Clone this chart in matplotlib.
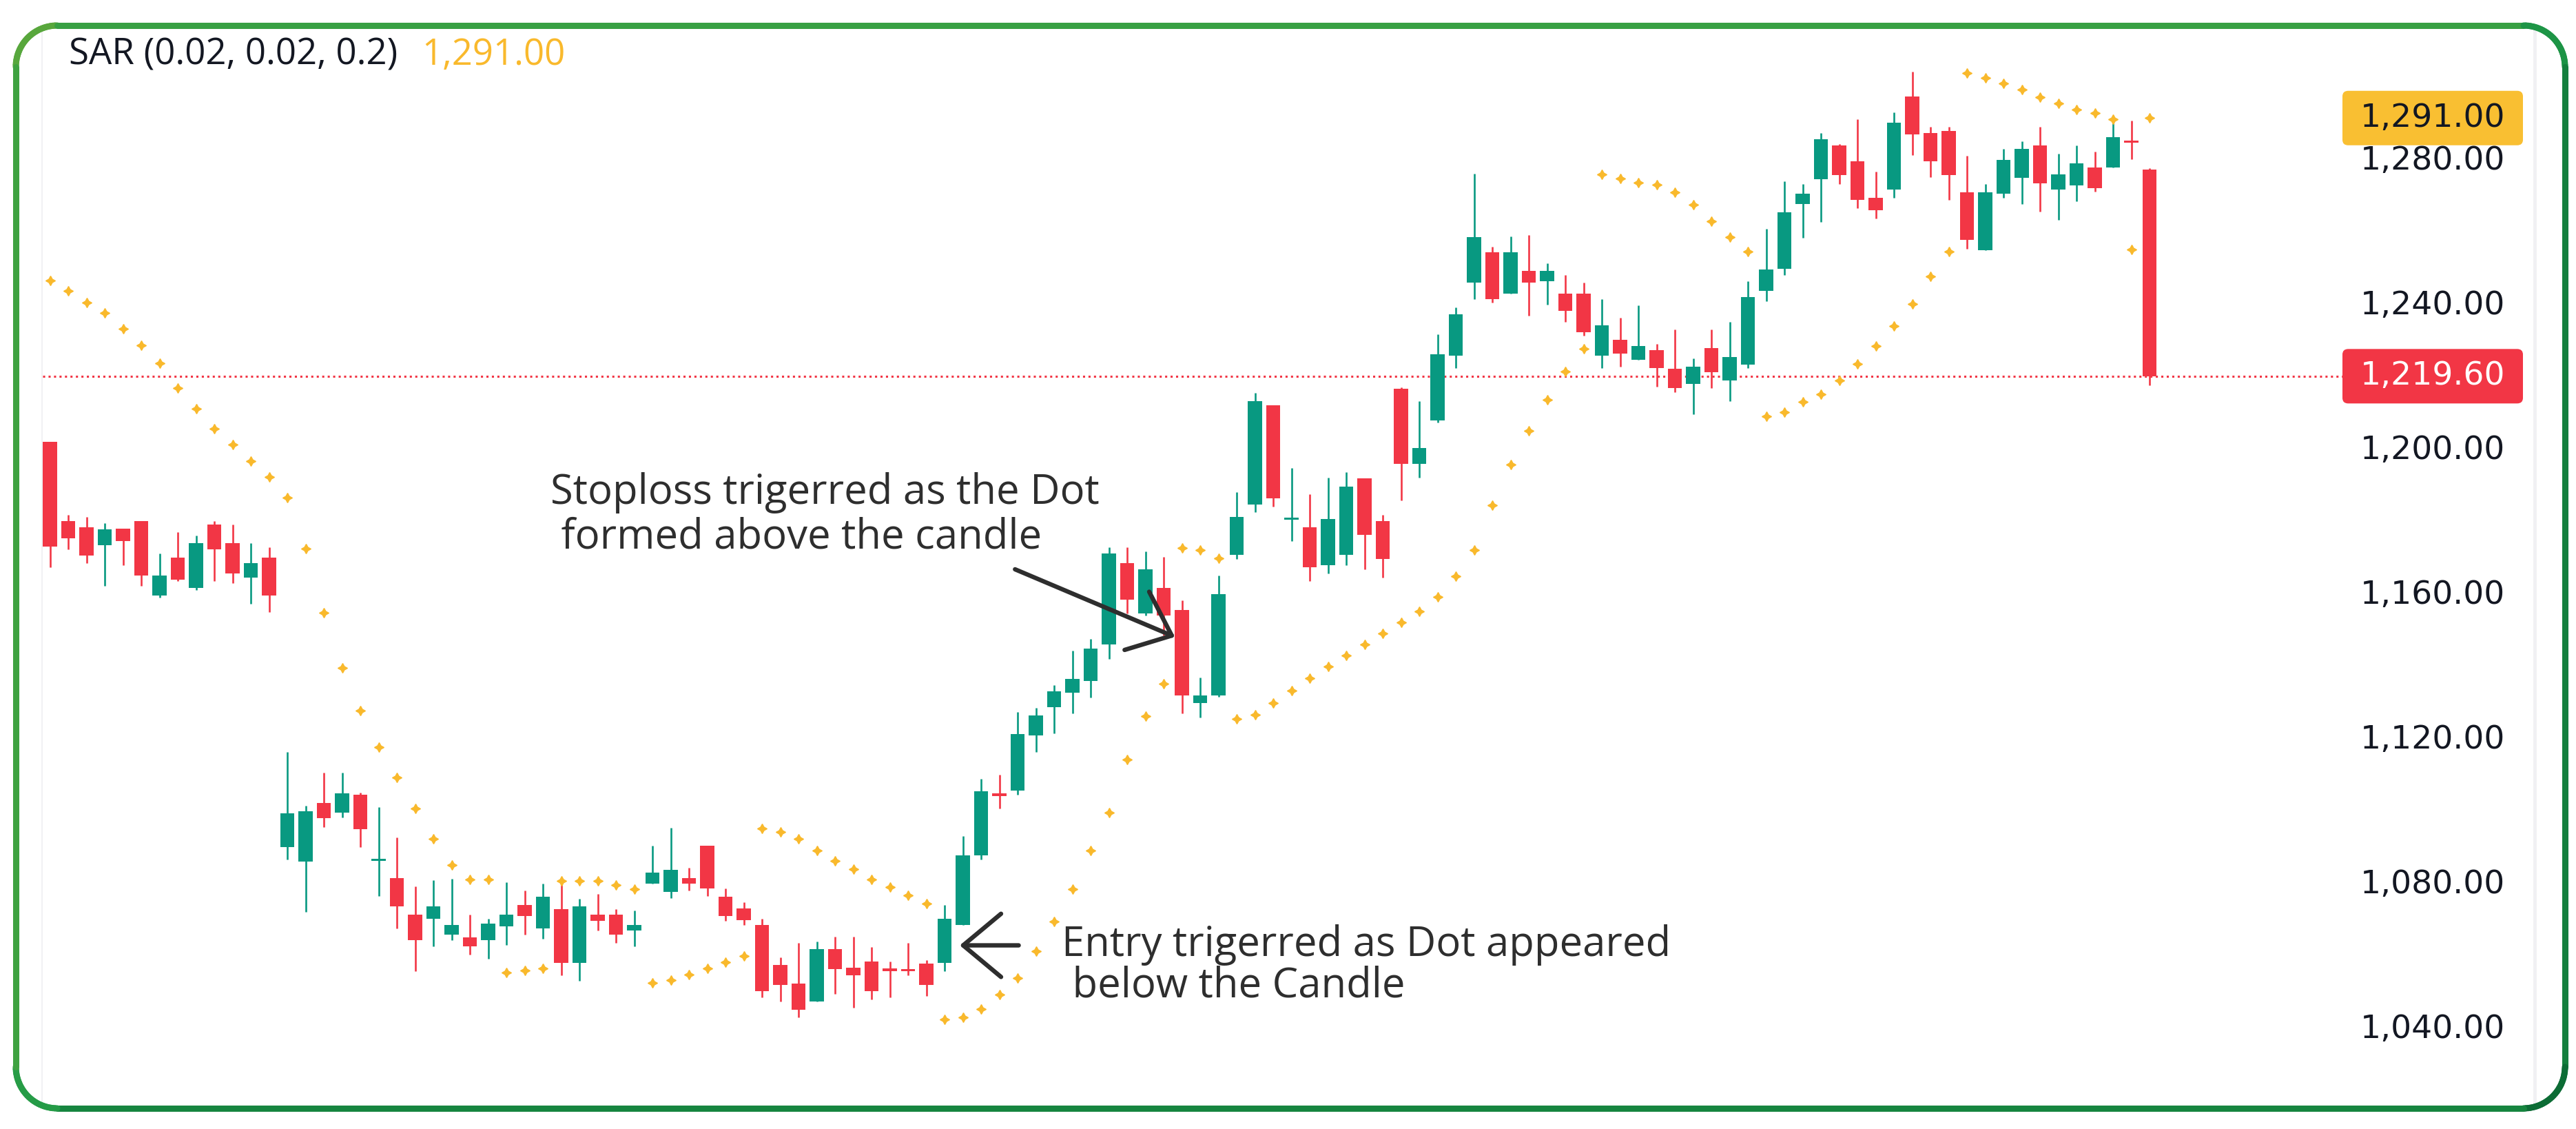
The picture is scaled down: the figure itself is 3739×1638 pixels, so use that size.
import matplotlib
matplotlib.use("Agg")
import matplotlib.pyplot as plt
import numpy as np
from matplotlib.collections import LineCollection
from matplotlib.colors import LinearSegmentedColormap
from matplotlib.lines import Line2D
from matplotlib.patches import FancyBboxPatch
from matplotlib.transforms import blended_transform_factory

# daily candles
opens = [1201.5, 1179.6, 1177.9, 1172.9, 1177.4, 1179.6, 1158.9, 1169.5, 1161.1, 1178.5,
         1173.4, 1164.0, 1169.5, 1089.3, 1085.4, 1101.5, 1098.9, 1103.8, 1085.5, 1080.8,
         1070.6, 1069.6, 1065.2, 1064.4, 1063.6, 1067.5, 1073.4, 1066.9, 1072.3, 1057.3,
         1070.6, 1070.6, 1066.3, 1079.2, 1076.9, 1080.8, 1089.8, 1075.7, 1072.4, 1067.9,
         1056.7, 1051.6, 1046.6, 1061.1, 1056.0, 1057.7, 1055.8, 1055.6, 1057.1, 1057.3,
         1067.9, 1087.0, 1104.3, 1105.1, 1120.2, 1128.1, 1132.0, 1135.4, 1145.5, 1167.9,
         1153.9, 1161.0, 1154.9, 1129.2, 1131.4, 1170.2, 1184.2, 1211.6, 1180.0, 1177.8,
         1167.3, 1170.2, 1191.4, 1179.5, 1216.1, 1195.4, 1207.3, 1225.3, 1245.4, 1253.8,
         1242.5, 1248.7, 1245.9, 1242.5, 1242.5, 1225.3, 1229.6, 1224.1, 1226.8, 1221.7,
         1217.4, 1227.4, 1218.5, 1222.9, 1243.2, 1249.3, 1267.2, 1274.0, 1283.5, 1279.0,
         1268.9, 1271.2, 1297.0, 1286.8, 1287.4, 1270.5, 1254.4, 1270.1, 1274.5, 1283.4,
         1271.2, 1272.3, 1277.3, 1277.4, 1284.8, 1276.8]
highs = [1201.5, 1181.3, 1180.7, 1179.0, 1177.4, 1179.6, 1170.6, 1176.4, 1175.6, 1179.6,
         1178.5, 1173.4, 1172.3, 1115.6, 1100.9, 1110.0, 1110.0, 1104.4, 1100.4, 1092.0,
         1078.5, 1080.2, 1080.7, 1070.6, 1069.5, 1079.6, 1077.4, 1079.2, 1080.3, 1075.1,
         1076.4, 1072.3, 1071.8, 1089.8, 1094.8, 1083.6, 1089.8, 1077.9, 1074.1, 1069.6,
         1058.8, 1062.8, 1063.3, 1064.5, 1064.5, 1061.7, 1057.7, 1062.8, 1058.2, 1073.4,
         1092.5, 1108.2, 1109.4, 1126.8, 1127.9, 1134.2, 1143.7, 1147.0, 1172.3, 1172.3,
         1171.2, 1169.6, 1157.7, 1136.3, 1164.4, 1187.5, 1215.0, 1211.6, 1194.2, 1186.9,
         1191.5, 1193.1, 1191.4, 1181.3, 1216.6, 1212.8, 1231.2, 1238.6, 1275.6, 1255.4,
         1258.2, 1258.7, 1250.9, 1247.5, 1245.4, 1240.9, 1235.8, 1239.2, 1228.5, 1232.5,
         1224.5, 1232.5, 1234.7, 1245.8, 1260.4, 1273.5, 1272.8, 1286.8, 1283.9, 1290.7,
         1276.2, 1292.5, 1303.8, 1288.6, 1288.6, 1280.6, 1272.8, 1282.4, 1284.6, 1288.6,
         1281.2, 1283.5, 1281.8, 1290.9, 1290.2, 1277.1]
lows = [1166.8, 1171.8, 1167.9, 1161.7, 1167.3, 1161.7, 1158.3, 1162.9, 1160.5, 1162.9,
        1162.3, 1156.7, 1154.3, 1085.9, 1071.4, 1094.9, 1097.6, 1089.3, 1075.8, 1066.8,
        1055.1, 1061.9, 1063.6, 1059.6, 1058.4, 1062.3, 1065.2, 1064.1, 1053.9, 1052.3,
        1066.3, 1062.8, 1061.9, 1079.2, 1075.2, 1077.4, 1075.8, 1069.0, 1067.9, 1047.9,
        1046.6, 1042.2, 1046.6, 1048.8, 1045.0, 1047.3, 1047.9, 1053.9, 1048.2, 1055.1,
        1067.9, 1086.0, 1100.0, 1103.8, 1115.6, 1120.8, 1126.4, 1130.8, 1141.4, 1154.0,
        1153.4, 1147.8, 1126.4, 1125.3, 1131.0, 1169.1, 1182.0, 1183.5, 1174.0, 1162.9,
        1165.1, 1167.3, 1166.2, 1164.0, 1185.3, 1191.5, 1206.8, 1221.9, 1240.9, 1239.9,
        1242.5, 1236.4, 1239.3, 1234.7, 1230.9, 1221.9, 1222.3, 1224.1, 1216.8, 1215.1,
        1209.0, 1216.3, 1212.8, 1221.9, 1240.3, 1247.6, 1257.8, 1262.2, 1272.8, 1266.1,
        1263.3, 1269.0, 1280.8, 1274.6, 1268.4, 1254.9, 1254.4, 1269.0, 1267.3, 1265.1,
        1262.8, 1267.9, 1270.6, 1277.4, 1279.6, 1217.0]
closes = [1172.4, 1174.7, 1170.1, 1177.3, 1174.1, 1164.5, 1164.5, 1163.4, 1173.4, 1171.8,
          1165.1, 1167.9, 1158.9, 1098.7, 1099.2, 1097.3, 1104.3, 1094.4, 1085.7, 1073.0,
          1063.6, 1072.9, 1067.8, 1061.9, 1068.3, 1070.6, 1070.3, 1075.7, 1057.3, 1072.9,
          1069.0, 1065.2, 1067.8, 1082.4, 1083.0, 1079.2, 1077.9, 1070.3, 1069.2, 1049.5,
          1051.2, 1044.4, 1061.1, 1055.6, 1053.9, 1049.5, 1055.0, 1055.0, 1051.2, 1069.5,
          1087.0, 1104.9, 1103.5, 1120.6, 1125.7, 1132.4, 1135.8, 1144.2, 1170.6, 1157.8,
          1166.2, 1153.4, 1131.4, 1131.3, 1159.3, 1180.7, 1212.8, 1185.9, 1180.2, 1166.8,
          1180.2, 1189.1, 1175.7, 1169.1, 1195.4, 1199.8, 1225.7, 1236.8, 1258.1, 1240.9,
          1253.8, 1245.4, 1248.7, 1237.6, 1231.8, 1233.6, 1225.8, 1227.9, 1221.9, 1216.3,
          1222.2, 1220.7, 1225.0, 1241.4, 1249.2, 1265.0, 1270.0, 1285.1, 1275.2, 1268.4,
          1265.6, 1289.7, 1286.4, 1279.0, 1275.2, 1257.3, 1270.5, 1279.5, 1282.4, 1272.9,
          1275.5, 1278.4, 1271.7, 1285.7, 1284.1, 1219.6]
sar = [1246.1, 1243.3, 1240.0, 1237.2, 1232.7, 1228.2, 1223.1, 1216.4, 1210.7, 1205.1,
       1200.7, 1196.2, 1191.7, 1186.1, 1172.0, 1154.1, 1139.0, 1127.2, 1117.0, 1108.6,
       1100.1, 1091.7, 1084.5, 1080.5, 1080.5, 1054.7, 1055.2, 1055.8, 1080.1, 1080.0,
       1080.0, 1078.9, 1077.8, 1051.9, 1052.5, 1054.2, 1055.8, 1057.5, 1059.2, 1094.6,
       1093.5, 1091.7, 1088.4, 1085.6, 1083.3, 1080.5, 1078.3, 1076.0, 1073.8, 1041.7,
       1042.3, 1044.6, 1048.5, 1053.1, 1060.5, 1068.7, 1077.7, 1088.4, 1099.0, 1113.6,
       1125.5, 1134.5, 1172.1, 1171.5, 1169.2, 1124.9, 1126.0, 1129.3, 1132.7, 1136.1,
       1139.3, 1142.4, 1145.4, 1148.5, 1151.5, 1154.6, 1158.6, 1164.3, 1171.5, 1183.9,
       1195.1, 1204.6, 1213.1, 1220.9, 1227.2, 1275.5, 1274.2, 1273.1, 1272.5, 1270.4,
       1267.0, 1262.5, 1258.0, 1254.1, 1208.5, 1209.7, 1212.5, 1214.7, 1218.5, 1223.0,
       1228.0, 1233.5, 1239.5, 1247.3, 1254.1, 1303.4, 1302.2, 1300.6, 1298.9, 1296.8,
       1295.1, 1293.3, 1292.3, 1290.6, 1254.6, 1291.0]
price_ticks = [1040, 1080, 1120, 1160, 1200, 1240, 1280]
sar_label = "SAR (0.02, 0.02, 0.2)"
entry_note = "Entry trigerred as Dot appeared\n below the Candle"
stop_note = "Stoploss trigerred as the Dot\n formed above the candle"

UP = "#089981"
DOWN = "#f23645"
DOT = "#f9b92c"
INK = "#131722"
NOTE = "#2e2e2e"
TEXT_FONT = ["Open Sans", "DejaVu Sans"]

W, H = 3739, 1638
L, R, T, B = 62, 3400, 45, 1600      # chart area, px
X0_PX, BAR_PX = 72.5, 26.5           # first candle centre, px per candle
Y_TOP, UNIT_PX = 1315.07, 5.246      # price at top edge, px per price unit

fig = plt.figure(figsize=(W / 100, H / 100), dpi=100)
fig.patch.set_facecolor("white")
ax = fig.add_axes([L / W, 1 - B / H, (R - L) / W, (B - T) / H])
ax.set_xlim((L - X0_PX) / BAR_PX, (R - X0_PX) / BAR_PX)
ax.set_ylim(Y_TOP - (B - T) / UNIT_PX, Y_TOP)
for s in ax.spines.values():
    s.set_visible(False)
ax.set_xticks([])

o, h, l, c = (np.array(a) for a in (opens, highs, lows, closes))
idx = np.arange(len(o))
cols = np.where(c >= o, UP, DOWN)
ax.vlines(idx, l, h, colors=cols, lw=1.9, zorder=2)
ax.bar(idx, np.maximum(np.abs(c - o), 0.55), bottom=np.minimum(o, c), width=0.78,
       color=cols, linewidth=0, zorder=3)
ax.plot(idx, sar, ls="none", marker=(4, 1, 0), ms=10, color=DOT, mec=DOT, zorder=4)

ax.axhline(closes[-1], color=DOWN, lw=2.2, ls=(0, (1, 1.6)), zorder=1)

# price scale on the right
ax.yaxis.tick_right()
ax.set_yticks(price_ticks)
ax.set_yticklabels([f"{v:,.2f}" for v in price_ticks])
ax.tick_params(axis="y", length=0, pad=170, labelsize=34, labelcolor=INK)
for lab in ax.get_yticklabels():
    lab.set_ha("right")

tr = blended_transform_factory(ax.transAxes, ax.transData)
tag_w = 262 / (R - L)
tag_h = 79 / UNIT_PX
label_x = 1 + 236 / (R - L)


def price_tag(value, face, fg):
    box = FancyBboxPatch((1, value - tag_h / 2), tag_w, tag_h,
                         boxstyle="round,pad=0,rounding_size=0.0025",
                         mutation_aspect=(8 / UNIT_PX) / 0.0025,
                         transform=tr, fc=face, ec="none", clip_on=False, zorder=6)
    ax.add_patch(box)
    ax.text(label_x, value, f"{value:,.2f}", transform=tr, ha="right", va="center",
            fontsize=34, color=fg, clip_on=False, zorder=7)


price_tag(sar[-1], "#f9bf32", INK)
price_tag(closes[-1], DOWN, "white")

# notes and arrows
ax.text(27.4, 1181.2, stop_note, fontsize=43, color=NOTE, family=TEXT_FONT,
        ha="left", va="center", linespacing=1.08, zorder=5)
ax.text(55.4, 1056.6, entry_note, fontsize=43, color=NOTE, family=TEXT_FONT,
        ha="left", va="center", linespacing=1.0, zorder=5)
arrow = dict(arrowstyle="->,head_length=0.9,head_width=0.75", mutation_scale=44,
             lw=4.6, color=NOTE, shrinkA=0, shrinkB=0, capstyle="round",
             joinstyle="round")
ax.annotate("", xy=(49.83, 1062.2), xytext=(53.06, 1062.2), arrowprops=arrow, zorder=5)
ax.annotate("", xy=(61.62, 1147.5), xytext=(52.86, 1166.2), arrowprops=arrow, zorder=5)

# indicator legend
t1 = fig.text(100 / W, 1 - 80 / H, sar_label, fontsize=38, color=INK,
              family=TEXT_FONT, va="center")
ax.annotate(f"{sar[-1]:,.2f}", xy=(1, 0.5), xycoords=t1, xytext=(25, 0),
            textcoords="offset points", va="center", fontsize=38, color=DOT,
            family=TEXT_FONT, annotation_clip=False)

# light pane edges
for xp in (L, 3679):
    fig.add_artist(Line2D([xp / W, xp / W], [1 - 40 / H, 1 - 1605 / H],
                          color="#f0f0f3", lw=3.5, zorder=0))

# rounded gradient frame
x0, y0, x1, y1, r = 23, 37, 3723, 1608, 60
pts = []
for cx, cy, a0 in ((x0 + r, y0 + r, 180), (x1 - r, y0 + r, 270),
                   (x1 - r, y1 - r, 0), (x0 + r, y1 - r, 90)):
    th = np.radians(np.linspace(a0, a0 + 90, 30))
    pts += list(zip(cx + r * np.cos(th), cy + r * np.sin(th)))
pts.append(pts[0])
pts = np.array(pts)
t = 0.55 * pts[:, 0] / W + 0.45 * pts[:, 1] / H
frac = np.column_stack([pts[:, 0] / W, 1 - pts[:, 1] / H])
segs = np.stack([frac[:-1], frac[1:]], axis=1)
cmap = LinearSegmentedColormap.from_list("frame", ["#5aa83c", "#1f9a48", "#0b6a34"])
frame = LineCollection(segs, colors=cmap((t[:-1] + t[1:]) / 2), linewidths=6.5,
                       transform=fig.transFigure, capstyle="round")
fig.add_artist(frame)

fig.savefig("out.png", dpi=100)
